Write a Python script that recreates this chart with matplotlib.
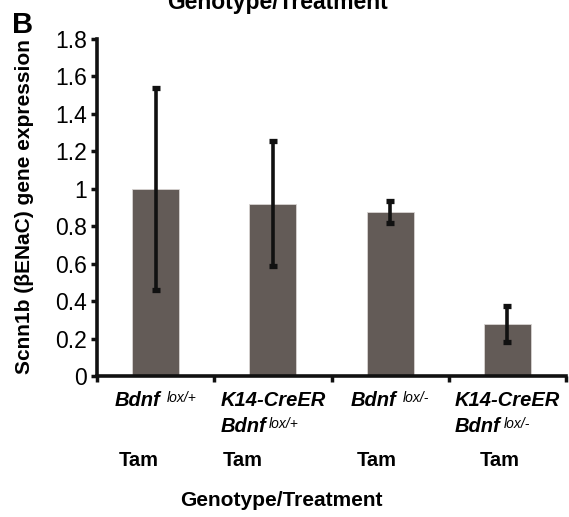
import matplotlib
matplotlib.use("Agg")
from matplotlib import pyplot as plt
import numpy as np

plt.rcParams['font.family'] = ['Liberation Sans', 'DejaVu Sans']

# data
genotypes = ["Bdnf", "K14-CreER\nBdnf", "Bdnf", "K14-CreER\nBdnf"]
alleles = ["lox/+", "lox/+", "lox/-", "lox/-"]
treatment = ["Tam", "Tam", "Tam", "Tam"]
means = [1.0, 0.92, 0.875, 0.277]
err_low = [0.458, 0.589, 0.819, 0.18]
err_high = [1.54, 1.257, 0.935, 0.376]

x = np.arange(1, len(means) + 1)
yerr = [np.array(means) - np.array(err_low), np.array(err_high) - np.array(means)]

W, H = 569, 517
fig = plt.figure(figsize=(W / 100, H / 100), dpi=100)
ax = fig.add_axes([97 / W, 1 - 376 / H, 469 / W, 337 / H])

ax.bar(x, means, width=0.4, color='#635B57', edgecolor='#d8d4d2', linewidth=0.6, zorder=2)
ax.errorbar(x, means, yerr=yerr, fmt='none', ecolor='#111111', elinewidth=2.6,
            capsize=3, capthick=3.8, zorder=3)

ax.set_xlim(0.5, 4.5)
ax.set_ylim(0, 1.8)
ax.set_yticks(np.arange(0, 1.81, 0.2))
ax.set_yticklabels(["%g" % round(v, 1) for v in np.arange(0, 1.81, 0.2)], fontsize=16.5)
ax.set_xticks(np.arange(0.5, 4.6, 1.0))
ax.set_xticklabels([])
ax.tick_params(axis='both', direction='out', length=4, width=2.5, color='#111111')
ax.tick_params(axis='y', pad=3)

for s in ['top', 'right']:
    ax.spines[s].set_visible(False)
for s in ['left', 'bottom']:
    ax.spines[s].set_linewidth(2.6)
    ax.spines[s].set_color('#111111')

renderer = fig.canvas.get_renderer()


def px(xd):
    # data x -> pixel x
    return ax.transData.transform((xd, 0))[0]


# category labels, base word in bold italic plus a raised allele tag
for xi, g, a in zip(x, genotypes, alleles):
    lines = g.split("\n")
    cx = px(xi)
    first_w = None
    for j, line in enumerate(lines):
        yy = H - 400 - j * 26
        t = fig.text(0, yy / H, line, ha='left', va='center',
                     fontsize=14.5, fontweight='bold', fontstyle='italic')
        bb = t.get_window_extent(renderer)
        if j == 0:
            first_w = bb.width
        if j == len(lines) - 1:
            sup = fig.text(0, 0, a, ha='left', va='top', fontsize=10, fontstyle='italic')
            sw = sup.get_window_extent(renderer).width
            gap = 6 if len(lines) == 1 else 3
            total = bb.width + gap + sw
            if len(lines) > 1:
                left = cx - first_w / 2
            else:
                left = cx - total / 2
            t.set_x(left / W)
            sup.set_position(((left + bb.width + gap) / W, (yy + bb.height / 2 - 1) / H))
        else:
            t.set_x((cx - bb.width / 2) / W)

tam_px = [139, 243, 377, 500]
for tx, tr in zip(tam_px, treatment):
    fig.text(tx / W, 1 - 460 / H, tr, ha='center', va='center',
             fontsize=14.5, fontweight='bold')

fig.text(281 / W, 1 - 500 / H, "Genotype/Treatment", ha='center', va='center',
         fontsize=15, fontweight='bold')

# title cut off at the top of the image
fig.text(278 / W, 1 - 9 / H, "Genotype/Treatment", ha='center', va='baseline',
         fontsize=16.5, fontweight='bold')

fig.text(12 / W, 1 - 33 / H, "B", ha='left', va='baseline', fontsize=21, fontweight='bold')

fig.text(25 / W, 1 - 207 / H, "Scnn1b (\u03b2ENaC) gene expression", rotation=90,
         ha='center', va='center', fontsize=15, fontweight='bold')

fig.savefig("out.png", dpi=100, facecolor='white')
